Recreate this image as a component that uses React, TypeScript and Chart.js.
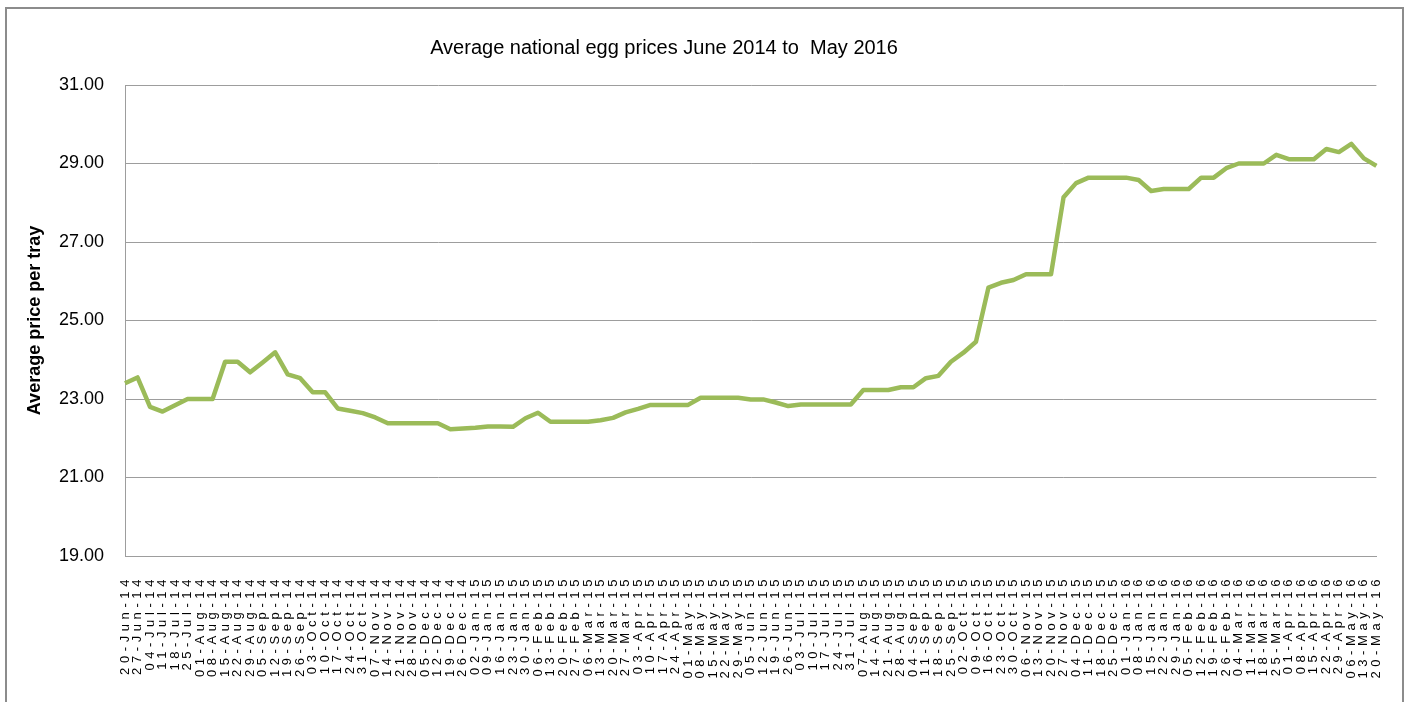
import { useEffect, useRef } from 'react';
import { Chart, registerables } from 'chart.js';

Chart.register(...registerables);

const CHART_TITLE = 'Average national egg prices June 2014 to  May 2016';
const Y_AXIS_TITLE = 'Average price per tray';

const WEEK_LABELS = [
  '20-Jun-14', '27-Jun-14', '04-Jul-14', '11-Jul-14', '18-Jul-14', '25-Jul-14', '01-Aug-14', '08-Aug-14',
  '15-Aug-14', '22-Aug-14', '29-Aug-14', '05-Sep-14', '12-Sep-14', '19-Sep-14', '26-Sep-14', '03-Oct-14',
  '10-Oct-14', '17-Oct-14', '24-Oct-14', '31-Oct-14', '07-Nov-14', '14-Nov-14', '21-Nov-14', '28-Nov-14',
  '05-Dec-14', '12-Dec-14', '19-Dec-14', '26-Dec-14',
  '02-Jan-15', '09-Jan-15', '16-Jan-15', '23-Jan-15', '30-Jan-15', '06-Feb-15', '13-Feb-15', '20-Feb-15',
  '27-Feb-15', '06-Mar-15', '13-Mar-15', '20-Mar-15', '27-Mar-15', '03-Apr-15', '10-Apr-15', '17-Apr-15',
  '24-Apr-15', '01-May-15', '08-May-15', '15-May-15', '22-May-15', '29-May-15', '05-Jun-15', '12-Jun-15',
  '19-Jun-15', '26-Jun-15', '03-Jul-15', '10-Jul-15', '17-Jul-15', '24-Jul-15', '31-Jul-15', '07-Aug-15',
  '14-Aug-15', '21-Aug-15', '28-Aug-15', '04-Sep-15', '11-Sep-15', '18-Sep-15', '25-Sep-15', '02-Oct-15',
  '09-Oct-15', '16-Oct-15', '23-Oct-15', '30-Oct-15', '06-Nov-15', '13-Nov-15', '20-Nov-15', '27-Nov-15',
  '04-Dec-15', '11-Dec-15', '18-Dec-15', '25-Dec-15',
  '01-Jan-16', '08-Jan-16', '15-Jan-16', '22-Jan-16', '29-Jan-16', '05-Feb-16', '12-Feb-16', '19-Feb-16',
  '26-Feb-16', '04-Mar-16', '11-Mar-16', '18-Mar-16', '25-Mar-16', '01-Apr-16', '08-Apr-16', '15-Apr-16',
  '22-Apr-16', '29-Apr-16', '06-May-16', '13-May-16', '20-May-16',
];

const AVERAGE_PRICE = [
  23.40, 23.55, 22.80, 22.68, 22.84, 23.00, 23.00, 23.00, 23.95, 23.95,
  23.68, 23.93, 24.19, 23.63, 23.53, 23.17, 23.17, 22.76, 22.70, 22.64,
  22.53, 22.38, 22.38, 22.38, 22.38, 22.38, 22.23, 22.25, 22.27, 22.30,
  22.30, 22.29, 22.51, 22.65, 22.42, 22.42, 22.42, 22.42, 22.46, 22.52,
  22.66, 22.75, 22.85, 22.85, 22.85, 22.85, 23.03, 23.03, 23.03, 23.03,
  22.99, 22.99, 22.91, 22.82, 22.86, 22.86, 22.86, 22.86, 22.86, 23.23,
  23.23, 23.23, 23.30, 23.30, 23.53, 23.59, 23.95, 24.18, 24.46, 25.84,
  25.96, 26.03, 26.18, 26.18, 26.18, 28.14, 28.50, 28.64, 28.64, 28.64,
  28.64, 28.58, 28.30, 28.35, 28.35, 28.35, 28.64, 28.64, 28.88, 29.00,
  29.00, 29.00, 29.22, 29.11, 29.11, 29.11, 29.37, 29.29, 29.50, 29.13,
  28.94,
];

const Y_MIN = 19;
const Y_MAX = 31;
const Y_STEP = 2;

const TEXT_FONT = '"Liberation Sans", Arial, sans-serif';
const X_LABEL_SPACING = '4.6px';

export default function App() {
  const canvasRef = useRef<HTMLCanvasElement | null>(null);

  useEffect(() => {
    document.body.style.margin = '0';
    const canvas = canvasRef.current;
    if (!canvas) return;

    const framePlugin = {
      id: 'frameAndTitle',
      beforeDraw(chart: any) {
        const ctx = chart.ctx;
        ctx.save();
        ctx.fillStyle = '#ffffff';
        ctx.fillRect(0, 0, chart.width, chart.height);
        ctx.strokeStyle = '#8c8c8c';
        ctx.lineWidth = 2;
        ctx.strokeRect(6, 8, 1397, 720);
        ctx.restore();
      },
      afterDraw(chart: any) {
        const ctx = chart.ctx;
        ctx.save();
        (ctx as any).letterSpacing = '0px';
        ctx.font = `20px ${TEXT_FONT}`;
        ctx.fillStyle = '#000000';
        ctx.textAlign = 'center';
        ctx.textBaseline = 'middle';
        ctx.fillText(CHART_TITLE, 664, 48);
        ctx.restore();
      },
    };

    const chart = new Chart(canvas, {
      type: 'line',
      data: {
        labels: WEEK_LABELS,
        datasets: [
          {
            label: 'Average price',
            data: AVERAGE_PRICE,
            borderColor: '#9bbb59',
            backgroundColor: '#9bbb59',
            borderWidth: 4.5,
            borderJoinStyle: 'round',
            pointRadius: 0,
            pointHoverRadius: 0,
            tension: 0,
            fill: false,
          },
        ],
      },
      options: {
        responsive: false,
        animation: false,
        events: [],
        layout: { padding: { top: 85, right: 33, left: 0, bottom: 0 } },
        plugins: {
          legend: { display: false },
          title: { display: false },
          tooltip: { enabled: false },
        },
        scales: {
          x: {
            type: 'category',
            offset: false,
            grid: { display: false, drawTicks: false },
            border: { display: true, color: '#9d9d9d', width: 1 },
            ticks: {
              autoSkip: false,
              minRotation: 90,
              maxRotation: 90,
              padding: 19,
              color: '#000000',
              font: { family: TEXT_FONT, size: 13 },
            },
            afterFit(scale: any) {
              scale.height = 146;
              if (!scale.__spaced) {
                const proto = Object.getPrototypeOf(scale);
                scale.draw = function (area: any) {
                  const ctx = this.ctx;
                  const prev = ctx.letterSpacing;
                  ctx.letterSpacing = X_LABEL_SPACING;
                  proto.draw.call(this, area);
                  ctx.letterSpacing = prev || '0px';
                };
                scale.__spaced = true;
              }
            },
          },
          y: {
            min: Y_MIN,
            max: Y_MAX,
            grid: { color: '#9d9d9d', lineWidth: 1, drawTicks: false },
            border: { display: true, color: '#9d9d9d', width: 1 },
            ticks: {
              stepSize: Y_STEP,
              padding: 21,
              color: '#000000',
              font: { family: TEXT_FONT, size: 18 },
              callback: (v: any) => Number(v).toFixed(2),
            },
            title: {
              display: true,
              text: Y_AXIS_TITLE,
              color: '#000000',
              font: { family: TEXT_FONT, size: 18, weight: 'bold' },
              padding: { top: 24, bottom: 0 },
            },
            afterFit(scale: any) {
              scale.width = 125;
            },
          },
        },
      },
      plugins: [framePlugin],
    } as any);

    return () => {
      chart.destroy();
    };
  }, []);

  return (
    <div style={{ position: 'fixed', left: 0, top: 0, width: 1411, height: 702, background: '#ffffff' }}>
      <canvas ref={canvasRef} width={1411} height={702} style={{ display: 'block' }} />
    </div>
  );
}
